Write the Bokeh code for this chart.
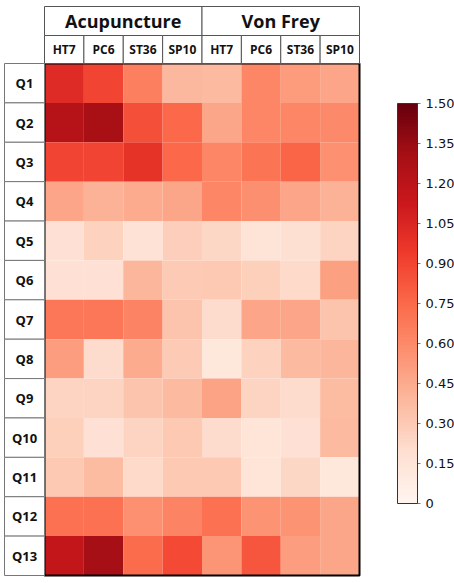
import numpy as np
from bokeh.plotting import figure
from bokeh.models import (ColumnDataSource, LinearColorMapper, ColorBar, FixedTicker,
                          CustomJSTickFormatter, Range1d)
from bokeh.palettes import Reds256
from bokeh.transform import transform
from bokeh.core.properties import value
from bokeh.embed import file_html
from bokeh.resources import INLINE

# ---------------- data ----------------
rows = ["Q1", "Q2", "Q3", "Q4", "Q5", "Q6", "Q7", "Q8", "Q9", "Q10", "Q11", "Q12", "Q13"]
groups = ["Acupuncture", "Von Frey"]
points = ["HT7", "PC6", "ST36", "SP10"]

acu_ht7  = [1.02, 1.23, 0.90, 0.48, 0.18, 0.18, 0.69, 0.51, 0.25, 0.27, 0.31, 0.72, 1.17]
acu_pc6  = [0.90, 1.30, 0.90, 0.42, 0.26, 0.18, 0.69, 0.21, 0.25, 0.18, 0.37, 0.72, 1.31]
acu_st36 = [0.65, 0.86, 0.98, 0.45, 0.17, 0.40, 0.63, 0.45, 0.33, 0.25, 0.22, 0.57, 0.74]
acu_sp10 = [0.39, 0.75, 0.75, 0.47, 0.28, 0.30, 0.33, 0.30, 0.38, 0.31, 0.31, 0.63, 0.88]
vf_ht7   = [0.38, 0.47, 0.62, 0.62, 0.24, 0.31, 0.21, 0.13, 0.49, 0.21, 0.31, 0.72, 0.55]
vf_pc6   = [0.62, 0.62, 0.70, 0.58, 0.16, 0.27, 0.48, 0.26, 0.25, 0.15, 0.15, 0.56, 0.83]
vf_st36  = [0.52, 0.62, 0.77, 0.48, 0.19, 0.22, 0.48, 0.38, 0.21, 0.18, 0.24, 0.56, 0.51]
vf_sp10  = [0.48, 0.60, 0.57, 0.42, 0.25, 0.50, 0.33, 0.40, 0.37, 0.38, 0.13, 0.47, 0.47]

series = [acu_ht7, acu_pc6, acu_st36, acu_sp10, vf_ht7, vf_pc6, vf_st36, vf_sp10]
col_labels = points + points

cbar_low, cbar_high = 0.0, 1.5
cbar_ticks = [0, 0.15, 0.30, 0.45, 0.60, 0.75, 0.90, 1.05, 1.20, 1.35, 1.50]

# ---------------- layout ----------------
W, H = 454, 583
ncol, nrow = len(series), len(rows)
PX = 315 / ncol                # pixels per column
PY = 512 / nrow                # pixels per row
x0 = -44 / PX
x1 = x0 + W / PX
y1 = 63 / PY
y0 = y1 - H / PY
sub_h = 28 / PY
top = y1 - 6 / PY
left = x0 + 4 / PX

p = figure(width=W, height=H, output_backend="svg", toolbar_location=None,
           x_range=Range1d(x0, x1), y_range=Range1d(y0, y1),
           x_axis_location=None, y_axis_location=None, min_border=0)
p.grid.visible = False
p.outline_line_color = None
p.background_fill_color = "white"

mapper = LinearColorMapper(palette=list(reversed(Reds256)), low=cbar_low, high=cbar_high)

xs, ys, vs = [], [], []
for ci, col in enumerate(series):
    for ri, v in enumerate(col):
        xs.append(ci + 0.5)
        ys.append(-(ri + 0.5))
        vs.append(v)
src = ColumnDataSource(dict(x=xs, y=ys, v=vs))
p.rect("x", "y", width=1, height=1, source=src,
       fill_color=transform("v", mapper), line_color=None)

# heatmap outline
p.rect(x=[ncol / 2], y=[-nrow / 2], width=ncol, height=nrow,
       fill_color=None, line_color="black", line_width=2)

hdr_font = value("Open Sans")

# group headers
gn = len(points)
gsrc = ColumnDataSource(dict(x=[gn * i + gn / 2 for i in range(len(groups))],
                             y=[(top + sub_h) / 2] * len(groups), t=groups))
p.rect("x", "y", width=gn, height=top - sub_h, source=gsrc,
       fill_color="white", line_color="#555555", line_width=1)
p.text("x", "y", text="t", source=gsrc, text_font=hdr_font, text_font_style="bold",
       text_font_size="18px", text_align="center", text_baseline="middle", text_color="#111111")

# sub headers
ssrc = ColumnDataSource(dict(x=[i + 0.5 for i in range(ncol)], y=[sub_h / 2] * ncol, t=col_labels))
p.rect("x", "y", width=1, height=sub_h, source=ssrc,
       fill_color="white", line_color="#555555", line_width=1)
p.text("x", "y", text="t", source=ssrc, text_font=hdr_font, text_font_style="bold",
       text_font_size="12px", text_align="center", text_baseline="middle", text_color="#111111")

# row labels
rsrc = ColumnDataSource(dict(x=[left / 2] * nrow, y=[-(i + 0.5) for i in range(nrow)], t=rows))
p.rect("x", "y", width=-left, height=1, source=rsrc,
       fill_color="white", line_color="#777777", line_width=1)
p.text("x", "y", text="t", source=rsrc, text_font=hdr_font, text_font_style="bold",
       text_font_size="13px", text_align="center", text_baseline="middle", text_color="#111111")

cb = ColorBar(color_mapper=mapper, ticker=FixedTicker(ticks=cbar_ticks),
              formatter=CustomJSTickFormatter(code="return tick == 0 ? '0' : tick.toFixed(2);"),
              width=20, height=400, location=(397, 80), padding=0,
              bar_line_color="#333333", bar_line_width=1,
              major_tick_line_color="#222222", major_tick_line_alpha=0.6,
              major_tick_in=0, major_tick_out=3, minor_tick_line_color=None,
              label_standoff=5, major_label_text_font="DejaVu Sans",
              major_label_text_font_size="13px", major_label_text_color="#111111",
              background_fill_color=None, border_line_color=None)
p.add_layout(cb, "center")

open("out.html", "w").write(file_html(p, INLINE))
